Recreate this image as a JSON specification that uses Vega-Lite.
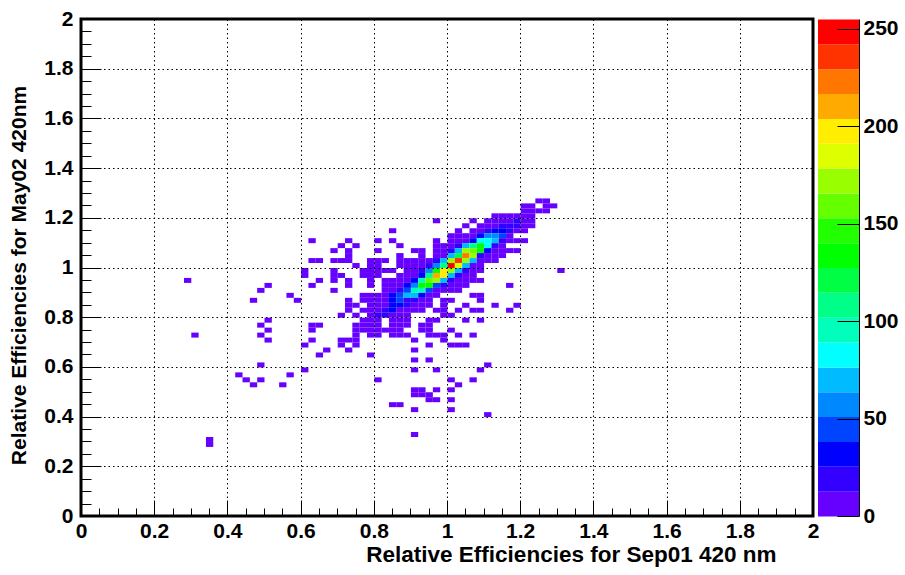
{"$schema":"https://vega.github.io/schema/vega-lite/v6.json","background":"white","padding":{"left":6,"top":6,"right":0,"bottom":0},"spacing":5,"bounds":"flush",
"config":{"font":"Liberation Sans","view":{"stroke":null}},
"datasets":{"cells":[
{"x":1.24,"y":1.26,"n":2},{"x":1.26,"y":1.26,"n":2},
{"x":1.2,"y":1.24,"n":2},{"x":1.22,"y":1.24,"n":2},{"x":1.26,"y":1.24,"n":1},{"x":1.28,"y":1.24,"n":1},
{"x":1.2,"y":1.22,"n":3},{"x":1.22,"y":1.22,"n":3},{"x":1.24,"y":1.22,"n":2},{"x":1.26,"y":1.22,"n":2},
{"x":1.12,"y":1.2,"n":3},{"x":1.14,"y":1.2,"n":3},{"x":1.16,"y":1.2,"n":4},{"x":1.18,"y":1.2,"n":5},{"x":1.2,"y":1.2,"n":4},{"x":1.22,"y":1.2,"n":3},
{"x":0.96,"y":1.18,"n":1},{"x":1.06,"y":1.18,"n":1},{"x":1.1,"y":1.18,"n":3},{"x":1.12,"y":1.18,"n":4},{"x":1.14,"y":1.18,"n":5},{"x":1.16,"y":1.18,"n":8},{"x":1.18,"y":1.18,"n":14},{"x":1.2,"y":1.18,"n":6},{"x":1.22,"y":1.18,"n":3},
{"x":1.04,"y":1.16,"n":1},{"x":1.08,"y":1.16,"n":2},{"x":1.1,"y":1.16,"n":4},{"x":1.12,"y":1.16,"n":6},{"x":1.14,"y":1.16,"n":16},{"x":1.16,"y":1.16,"n":18},{"x":1.18,"y":1.16,"n":15},{"x":1.2,"y":1.16,"n":5},{"x":1.22,"y":1.16,"n":2},
{"x":0.84,"y":1.14,"n":1},{"x":1.02,"y":1.14,"n":2},{"x":1.06,"y":1.14,"n":3},{"x":1.08,"y":1.14,"n":5},{"x":1.1,"y":1.14,"n":18},{"x":1.12,"y":1.14,"n":28},{"x":1.14,"y":1.14,"n":30},{"x":1.16,"y":1.14,"n":18},{"x":1.18,"y":1.14,"n":5},{"x":1.2,"y":1.14,"n":2},
{"x":1.0,"y":1.12,"n":3},{"x":1.02,"y":1.12,"n":3},{"x":1.04,"y":1.12,"n":5},{"x":1.06,"y":1.12,"n":8},{"x":1.08,"y":1.12,"n":32},{"x":1.1,"y":1.12,"n":57},{"x":1.12,"y":1.12,"n":60},{"x":1.14,"y":1.12,"n":45},{"x":1.16,"y":1.12,"n":8},
{"x":0.62,"y":1.1,"n":1},{"x":0.72,"y":1.1,"n":1},{"x":0.8,"y":1.1,"n":1},{"x":0.84,"y":1.1,"n":1},{"x":0.96,"y":1.1,"n":1},{"x":1.0,"y":1.1,"n":3},{"x":1.02,"y":1.1,"n":5},{"x":1.04,"y":1.1,"n":8},{"x":1.06,"y":1.1,"n":32},{"x":1.08,"y":1.1,"n":83},{"x":1.1,"y":1.1,"n":85},{"x":1.12,"y":1.1,"n":70},{"x":1.14,"y":1.1,"n":19},{"x":1.16,"y":1.1,"n":6},{"x":1.18,"y":1.1,"n":3},{"x":1.2,"y":1.1,"n":1},
{"x":0.7,"y":1.08,"n":1},{"x":0.74,"y":1.08,"n":1},{"x":0.86,"y":1.08,"n":1},{"x":0.96,"y":1.08,"n":2},{"x":0.98,"y":1.08,"n":3},{"x":1.0,"y":1.08,"n":8},{"x":1.02,"y":1.08,"n":19},{"x":1.04,"y":1.08,"n":70},{"x":1.06,"y":1.08,"n":108},{"x":1.08,"y":1.08,"n":134},{"x":1.1,"y":1.08,"n":83},{"x":1.12,"y":1.08,"n":19},{"x":1.14,"y":1.08,"n":5},
{"x":0.68,"y":1.06,"n":1},{"x":0.72,"y":1.06,"n":2},{"x":0.8,"y":1.06,"n":1},{"x":0.9,"y":1.06,"n":1},{"x":0.92,"y":1.06,"n":1},{"x":0.96,"y":1.06,"n":2},{"x":0.98,"y":1.06,"n":4},{"x":1.0,"y":1.06,"n":19},{"x":1.02,"y":1.06,"n":70},{"x":1.04,"y":1.06,"n":172},{"x":1.06,"y":1.06,"n":159},{"x":1.08,"y":1.06,"n":134},{"x":1.1,"y":1.06,"n":32},{"x":1.12,"y":1.06,"n":6},{"x":1.14,"y":1.06,"n":4},{"x":1.16,"y":1.06,"n":3},{"x":1.18,"y":1.06,"n":2},
{"x":0.72,"y":1.04,"n":1},{"x":0.86,"y":1.04,"n":2},{"x":0.92,"y":1.04,"n":1},{"x":0.96,"y":1.04,"n":3},{"x":0.98,"y":1.04,"n":5},{"x":1.0,"y":1.04,"n":70},{"x":1.02,"y":1.04,"n":121},{"x":1.04,"y":1.04,"n":223},{"x":1.06,"y":1.04,"n":172},{"x":1.08,"y":1.04,"n":25},{"x":1.1,"y":1.04,"n":8},{"x":1.12,"y":1.04,"n":4},{"x":1.14,"y":1.04,"n":2},
{"x":0.62,"y":1.02,"n":1},{"x":0.64,"y":1.02,"n":1},{"x":0.68,"y":1.02,"n":1},{"x":0.7,"y":1.02,"n":1},{"x":0.72,"y":1.02,"n":1},{"x":0.78,"y":1.02,"n":2},{"x":0.8,"y":1.02,"n":3},{"x":0.82,"y":1.02,"n":2},{"x":0.86,"y":1.02,"n":3},{"x":0.88,"y":1.02,"n":3},{"x":0.9,"y":1.02,"n":4},{"x":0.92,"y":1.02,"n":5},{"x":0.94,"y":1.02,"n":10},{"x":0.96,"y":1.02,"n":19},{"x":0.98,"y":1.02,"n":70},{"x":1.0,"y":1.02,"n":172},{"x":1.02,"y":1.02,"n":236},{"x":1.04,"y":1.02,"n":172},{"x":1.06,"y":1.02,"n":70},{"x":1.08,"y":1.02,"n":8},{"x":1.1,"y":1.02,"n":5},{"x":1.12,"y":1.02,"n":3},
{"x":0.74,"y":1.0,"n":1},{"x":0.78,"y":1.0,"n":2},{"x":0.8,"y":1.0,"n":2},{"x":0.86,"y":1.0,"n":3},{"x":0.88,"y":1.0,"n":3},{"x":0.9,"y":1.0,"n":5},{"x":0.92,"y":1.0,"n":8},{"x":0.94,"y":1.0,"n":19},{"x":0.96,"y":1.0,"n":57},{"x":0.98,"y":1.0,"n":108},{"x":1.0,"y":1.0,"n":249},{"x":1.02,"y":1.0,"n":185},{"x":1.04,"y":1.0,"n":75},{"x":1.06,"y":1.0,"n":8},{"x":1.08,"y":1.0,"n":4},
{"x":0.6,"y":0.98,"n":1},{"x":0.68,"y":0.98,"n":1},{"x":0.76,"y":0.98,"n":1},{"x":0.78,"y":0.98,"n":2},{"x":0.8,"y":0.98,"n":3},{"x":0.82,"y":0.98,"n":3},{"x":0.84,"y":0.98,"n":2},{"x":0.88,"y":0.98,"n":4},{"x":0.9,"y":0.98,"n":6},{"x":0.92,"y":0.98,"n":19},{"x":0.94,"y":0.98,"n":57},{"x":0.96,"y":0.98,"n":134},{"x":0.98,"y":0.98,"n":198},{"x":1.0,"y":0.98,"n":172},{"x":1.02,"y":0.98,"n":70},{"x":1.04,"y":0.98,"n":19},{"x":1.06,"y":0.98,"n":6},{"x":1.08,"y":0.98,"n":3},{"x":1.3,"y":0.98,"n":1},
{"x":0.6,"y":0.96,"n":1},{"x":0.68,"y":0.96,"n":1},{"x":0.7,"y":0.96,"n":1},{"x":0.76,"y":0.96,"n":2},{"x":0.78,"y":0.96,"n":3},{"x":0.8,"y":0.96,"n":3},{"x":0.86,"y":0.96,"n":4},{"x":0.88,"y":0.96,"n":5},{"x":0.9,"y":0.96,"n":10},{"x":0.92,"y":0.96,"n":32},{"x":0.94,"y":0.96,"n":108},{"x":0.96,"y":0.96,"n":210},{"x":0.98,"y":0.96,"n":198},{"x":1.0,"y":0.96,"n":70},{"x":1.02,"y":0.96,"n":19},{"x":1.04,"y":0.96,"n":6},{"x":1.06,"y":0.96,"n":3},
{"x":0.28,"y":0.94,"n":1},{"x":0.64,"y":0.94,"n":1},{"x":0.68,"y":0.94,"n":1},{"x":0.72,"y":0.94,"n":1},{"x":0.78,"y":0.94,"n":2},{"x":0.82,"y":0.94,"n":3},{"x":0.84,"y":0.94,"n":4},{"x":0.86,"y":0.94,"n":5},{"x":0.88,"y":0.94,"n":10},{"x":0.9,"y":0.94,"n":32},{"x":0.92,"y":0.94,"n":96},{"x":0.94,"y":0.94,"n":159},{"x":0.96,"y":0.94,"n":172},{"x":0.98,"y":0.94,"n":70},{"x":1.0,"y":0.94,"n":19},{"x":1.02,"y":0.94,"n":8},{"x":1.04,"y":0.94,"n":4},{"x":1.06,"y":0.94,"n":3},{"x":1.08,"y":0.94,"n":2},
{"x":0.5,"y":0.92,"n":1},{"x":0.62,"y":0.92,"n":1},{"x":0.72,"y":0.92,"n":1},{"x":0.78,"y":0.92,"n":2},{"x":0.82,"y":0.92,"n":3},{"x":0.84,"y":0.92,"n":4},{"x":0.86,"y":0.92,"n":8},{"x":0.88,"y":0.92,"n":32},{"x":0.9,"y":0.92,"n":57},{"x":0.92,"y":0.92,"n":134},{"x":0.94,"y":0.92,"n":134},{"x":0.96,"y":0.92,"n":45},{"x":0.98,"y":0.92,"n":19},{"x":1.0,"y":0.92,"n":6},{"x":1.02,"y":0.92,"n":4},{"x":1.04,"y":0.92,"n":2},{"x":1.16,"y":0.92,"n":1},
{"x":0.48,"y":0.9,"n":1},{"x":0.68,"y":0.9,"n":1},{"x":0.82,"y":0.9,"n":3},{"x":0.84,"y":0.9,"n":5},{"x":0.86,"y":0.9,"n":19},{"x":0.88,"y":0.9,"n":45},{"x":0.9,"y":0.9,"n":96},{"x":0.92,"y":0.9,"n":96},{"x":0.94,"y":0.9,"n":45},{"x":0.96,"y":0.9,"n":8},{"x":0.98,"y":0.9,"n":5},{"x":1.0,"y":0.9,"n":3},{"x":1.02,"y":0.9,"n":2},
{"x":0.56,"y":0.88,"n":1},{"x":0.76,"y":0.88,"n":1},{"x":0.78,"y":0.88,"n":2},{"x":0.8,"y":0.88,"n":3},{"x":0.82,"y":0.88,"n":5},{"x":0.84,"y":0.88,"n":32},{"x":0.86,"y":0.88,"n":45},{"x":0.88,"y":0.88,"n":70},{"x":0.9,"y":0.88,"n":70},{"x":0.92,"y":0.88,"n":32},{"x":0.94,"y":0.88,"n":8},{"x":0.96,"y":0.88,"n":3},{"x":1.06,"y":0.88,"n":1},{"x":1.08,"y":0.88,"n":1},
{"x":0.46,"y":0.86,"n":1},{"x":0.58,"y":0.86,"n":1},{"x":0.72,"y":0.86,"n":1},{"x":0.76,"y":0.86,"n":2},{"x":0.78,"y":0.86,"n":3},{"x":0.8,"y":0.86,"n":4},{"x":0.82,"y":0.86,"n":8},{"x":0.84,"y":0.86,"n":32},{"x":0.86,"y":0.86,"n":45},{"x":0.88,"y":0.86,"n":25},{"x":0.9,"y":0.86,"n":19},{"x":0.92,"y":0.86,"n":6},{"x":0.94,"y":0.86,"n":3},{"x":0.98,"y":0.86,"n":1},{"x":1.0,"y":0.86,"n":1},{"x":1.08,"y":0.86,"n":1},
{"x":0.72,"y":0.84,"n":1},{"x":0.74,"y":0.84,"n":1},{"x":0.78,"y":0.84,"n":2},{"x":0.8,"y":0.84,"n":3},{"x":0.82,"y":0.84,"n":5},{"x":0.84,"y":0.84,"n":30},{"x":0.86,"y":0.84,"n":32},{"x":0.88,"y":0.84,"n":19},{"x":0.9,"y":0.84,"n":6},{"x":0.92,"y":0.84,"n":4},{"x":0.94,"y":0.84,"n":2},{"x":0.98,"y":0.84,"n":1},{"x":1.04,"y":0.84,"n":1},{"x":1.12,"y":0.84,"n":1},{"x":1.18,"y":0.84,"n":1},
{"x":0.72,"y":0.82,"n":1},{"x":0.76,"y":0.82,"n":2},{"x":0.78,"y":0.82,"n":3},{"x":0.8,"y":0.82,"n":4},{"x":0.82,"y":0.82,"n":19},{"x":0.84,"y":0.82,"n":32},{"x":0.86,"y":0.82,"n":6},{"x":0.88,"y":0.82,"n":4},{"x":0.9,"y":0.82,"n":3},{"x":0.92,"y":0.82,"n":2},{"x":0.96,"y":0.82,"n":1},{"x":0.98,"y":0.82,"n":1},{"x":1.02,"y":0.82,"n":1},{"x":1.06,"y":0.82,"n":1},{"x":1.08,"y":0.82,"n":1},{"x":1.16,"y":0.82,"n":1},
{"x":0.7,"y":0.8,"n":1},{"x":0.74,"y":0.8,"n":1},{"x":0.78,"y":0.8,"n":3},{"x":0.8,"y":0.8,"n":15},{"x":0.82,"y":0.8,"n":15},{"x":0.84,"y":0.8,"n":5},{"x":0.86,"y":0.8,"n":3},{"x":0.88,"y":0.8,"n":2},{"x":0.98,"y":0.8,"n":1},{"x":1.0,"y":0.8,"n":1},
{"x":0.5,"y":0.78,"n":1},{"x":0.76,"y":0.78,"n":2},{"x":0.78,"y":0.78,"n":2},{"x":0.8,"y":0.78,"n":3},{"x":0.84,"y":0.78,"n":2},{"x":0.86,"y":0.78,"n":3},{"x":0.88,"y":0.78,"n":2},{"x":0.94,"y":0.78,"n":1},{"x":0.96,"y":0.78,"n":1},{"x":1.04,"y":0.78,"n":1},{"x":1.08,"y":0.78,"n":1},
{"x":0.48,"y":0.76,"n":1},{"x":0.62,"y":0.76,"n":1},{"x":0.64,"y":0.76,"n":1},{"x":0.74,"y":0.76,"n":1},{"x":0.76,"y":0.76,"n":2},{"x":0.78,"y":0.76,"n":2},{"x":0.8,"y":0.76,"n":2},{"x":0.84,"y":0.76,"n":2},{"x":0.86,"y":0.76,"n":2},{"x":0.88,"y":0.76,"n":1},{"x":0.92,"y":0.76,"n":1},{"x":0.94,"y":0.76,"n":1},
{"x":0.5,"y":0.74,"n":1},{"x":0.62,"y":0.74,"n":1},{"x":0.74,"y":0.74,"n":1},{"x":0.76,"y":0.74,"n":1},{"x":0.78,"y":0.74,"n":2},{"x":0.8,"y":0.74,"n":2},{"x":0.82,"y":0.74,"n":2},{"x":0.84,"y":0.74,"n":2},{"x":0.86,"y":0.74,"n":1},{"x":0.92,"y":0.74,"n":1},{"x":0.94,"y":0.74,"n":1},{"x":1.0,"y":0.74,"n":1},
{"x":0.3,"y":0.72,"n":1},{"x":0.48,"y":0.72,"n":1},{"x":0.74,"y":0.72,"n":1},{"x":0.78,"y":0.72,"n":1},{"x":0.8,"y":0.72,"n":1},{"x":0.84,"y":0.72,"n":1},{"x":0.86,"y":0.72,"n":1},{"x":0.88,"y":0.72,"n":1},{"x":0.94,"y":0.72,"n":1},{"x":0.96,"y":0.72,"n":1},{"x":0.98,"y":0.72,"n":1},{"x":1.02,"y":0.72,"n":1},{"x":1.06,"y":0.72,"n":1},
{"x":0.5,"y":0.7,"n":1},{"x":0.62,"y":0.7,"n":1},{"x":0.7,"y":0.7,"n":1},{"x":0.72,"y":0.7,"n":1},{"x":0.74,"y":0.7,"n":1},{"x":0.9,"y":0.7,"n":1},{"x":0.98,"y":0.7,"n":1},
{"x":0.6,"y":0.68,"n":1},{"x":0.7,"y":0.68,"n":1},{"x":0.74,"y":0.68,"n":1},{"x":0.94,"y":0.68,"n":1},{"x":1.0,"y":0.68,"n":1},{"x":1.02,"y":0.68,"n":1},{"x":1.04,"y":0.68,"n":1},
{"x":0.66,"y":0.66,"n":1},{"x":0.72,"y":0.66,"n":1},{"x":0.9,"y":0.66,"n":1},
{"x":0.64,"y":0.64,"n":1},{"x":0.78,"y":0.64,"n":1},
{"x":0.9,"y":0.62,"n":1},{"x":0.94,"y":0.62,"n":1},
{"x":0.48,"y":0.6,"n":1},{"x":1.1,"y":0.6,"n":1},
{"x":0.6,"y":0.58,"n":1},{"x":0.9,"y":0.58,"n":1},{"x":0.96,"y":0.58,"n":1},{"x":1.08,"y":0.58,"n":1},
{"x":0.42,"y":0.56,"n":1},{"x":0.56,"y":0.56,"n":1},
{"x":0.44,"y":0.54,"n":1},{"x":0.48,"y":0.54,"n":1},{"x":0.8,"y":0.54,"n":1},{"x":1.0,"y":0.54,"n":1},{"x":1.06,"y":0.54,"n":1},
{"x":0.46,"y":0.52,"n":1},{"x":0.54,"y":0.52,"n":1},{"x":1.02,"y":0.52,"n":1},
{"x":0.9,"y":0.5,"n":1},{"x":0.92,"y":0.5,"n":1},{"x":0.96,"y":0.5,"n":1},{"x":1.0,"y":0.5,"n":1},
{"x":0.9,"y":0.48,"n":1},{"x":0.92,"y":0.48,"n":1},{"x":0.94,"y":0.48,"n":1},
{"x":0.94,"y":0.46,"n":1},{"x":0.96,"y":0.46,"n":1},{"x":1.0,"y":0.46,"n":1},
{"x":0.84,"y":0.44,"n":1},{"x":0.86,"y":0.44,"n":1},
{"x":0.9,"y":0.42,"n":1},{"x":1.0,"y":0.42,"n":1},
{"x":1.1,"y":0.4,"n":1},
{"x":0.9,"y":0.32,"n":1},
{"x":0.34,"y":0.3,"n":1},{"x":0.34,"y":0.28,"n":1}
],
"bar":[{"lo":0,"n":6},{"lo":12.75,"n":19},{"lo":25.5,"n":32},{"lo":38.25,"n":45},{"lo":51,"n":57},{"lo":63.75,"n":70},{"lo":76.5,"n":83},{"lo":89.25,"n":96},{"lo":102,"n":108},{"lo":114.75,"n":121},{"lo":127.5,"n":134},{"lo":140.25,"n":147},{"lo":153,"n":159},{"lo":165.75,"n":172},{"lo":178.5,"n":185},{"lo":191.25,"n":198},{"lo":204,"n":210},{"lo":216.75,"n":223},{"lo":229.5,"n":236},{"lo":242.25,"n":249}]},
"hconcat":[
{"width":732,"height":497,"data":{"name":"cells"},"view":{"stroke":"black","strokeWidth":3},"mark":{"type":"rect"},
"encoding":{
"x":{"field":"x","type":"quantitative","bin":{"binned":true,"step":0.02},"scale":{"domain":[0,2],"nice":false,"zero":false},
"axis":{"title":"Relative Efficiencies for Sep01 420 nm","titleFont":"Liberation Sans","titleFontWeight":"bold","titleFontSize":22.5,"titleAlign":"right","titleAnchor":"end","titleX":695,"titleY":45,"titleBaseline":"alphabetic",
"values":[0,0.05,0.1,0.15,0.2,0.25,0.3,0.35,0.4,0.45,0.5,0.55,0.6,0.65,0.7,0.75,0.8,0.85,0.9,0.95,1,1.05,1.1,1.15,1.2,1.25,1.3,1.35,1.4,1.45,1.5,1.55,1.6,1.65,1.7,1.75,1.8,1.85,1.9,1.95,2],
"format":".1~f","labelExpr":"round(datum.value*100)%20===0?datum.label:''","labelOverlap":false,"labelFlush":false,"labelFont":"Liberation Sans","labelFontWeight":"bold","labelFontSize":21,"labelColor":"black","labelPadding":20.5,
"domain":false,"grid":true,"gridColor":"black","gridWidth":1,"gridDash":[1.5,3],"gridOpacity":{"condition":{"test":"round(datum.value*100)%20===0","value":1},"value":0},
"tickColor":"black","tickWidth":1,"tickSize":{"condition":{"test":"round(datum.value*100)%20===0","value":-16},"value":-8},"zindex":1}},
"y":{"field":"y","type":"quantitative","bin":{"binned":true,"step":0.02},"scale":{"domain":[0,2],"nice":false,"zero":false},
"axis":{"title":"Relative Efficiencies for May02 420nm","titleFont":"Liberation Sans","titleFontWeight":"bold","titleFontSize":21,"titleAlign":"center","titleAnchor":"middle","titleAngle":270,"titleX":-56,"titleY":256,"titleBaseline":"alphabetic",
"values":[0,0.05,0.1,0.15,0.2,0.25,0.3,0.35,0.4,0.45,0.5,0.55,0.6,0.65,0.7,0.75,0.8,0.85,0.9,0.95,1,1.05,1.1,1.15,1.2,1.25,1.3,1.35,1.4,1.45,1.5,1.55,1.6,1.65,1.7,1.75,1.8,1.85,1.9,1.95,2],
"format":".1~f","labelExpr":"round(datum.value*100)%20===0?datum.label:''","labelOverlap":false,"labelFlush":false,"labelFont":"Liberation Sans","labelFontWeight":"bold","labelFontSize":21,"labelColor":"black","labelPadding":28,
"domain":false,"grid":true,"gridColor":"black","gridWidth":1,"gridDash":[1.5,3],"gridOpacity":{"condition":{"test":"round(datum.value*100)%20===0","value":1},"value":0},
"tickColor":"black","tickWidth":1,"tickSize":{"condition":{"test":"round(datum.value*100)%20===0","value":-20},"value":-10},"zindex":1}},
"color":{"field":"n","type":"quantitative","legend":null,"scale":{"type":"quantize","domain":[0,255],"range":["#6600ff","#3300ff","#0000ff","#0044ff","#0088ff","#00bbff","#00ffff","#00ffbb","#00ff88","#00ff44","#00ff00","#22ff00","#66ff00","#99ff00","#ddff00","#ffee00","#ffaa00","#ff7700","#ff3300","#ff0000"]}}
}},
{"width":41,"height":497,"data":{"name":"bar"},"mark":{"type":"rect"},
"encoding":{
"y":{"field":"lo","type":"quantitative","bin":{"binned":true,"step":12.75},"scale":{"domain":[0,255],"nice":false,"zero":false},
"axis":{"title":null,"orient":"right","values":[0,50,100,150,200,250],"format":"d","labelFont":"Liberation Sans","labelFontWeight":"bold","labelFontSize":21,"labelColor":"black","labelPadding":26,"grid":false,"domain":true,"domainColor":"black","domainWidth":1,"tickColor":"black","tickWidth":1,"tickSize":-22,"zindex":1}},
"color":{"field":"n","type":"quantitative","legend":null,"scale":{"type":"quantize","domain":[0,255],"range":["#6600ff","#3300ff","#0000ff","#0044ff","#0088ff","#00bbff","#00ffff","#00ffbb","#00ff88","#00ff44","#00ff00","#22ff00","#66ff00","#99ff00","#ddff00","#ffee00","#ffaa00","#ff7700","#ff3300","#ff0000"]}}
}}
]}
